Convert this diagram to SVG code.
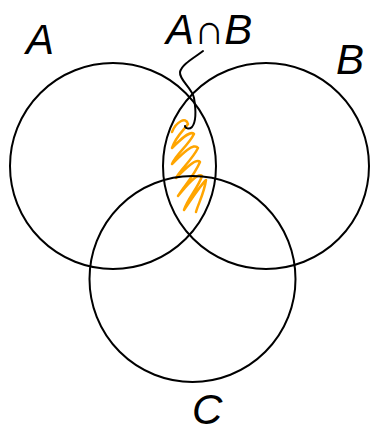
<svg xmlns="http://www.w3.org/2000/svg" width="376" height="433" viewBox="0 0 376 433">
<style>
.c{fill:none;stroke:#000;stroke-width:2}
.t{font-family:"Liberation Sans",Arial,sans-serif;font-size:42px;fill:#000;font-style:italic}
</style>
<rect width="376" height="433" fill="#fff"/>
<g id="scribble">
<path d="M172,132 C176,122 186,116 188,124 C184,130 176,136 172,148 C180,140 190,130 194,134 C188,146 176,154 172,164 C182,154 194,142 198,148 C192,160 180,170 176,178 C186,168 196,158 200,162 C194,176 184,186 178,196 C186,186 198,172 202,176 C198,188 188,198 184,210 C192,198 200,186 206,180 C204,194 198,204 196,212" fill="none" stroke="#FFA500" stroke-width="2.5" stroke-linejoin="round" stroke-linecap="round"/>
</g>
<g id="A"><circle class="c" cx="113" cy="166" r="103"/><text class="t" x="26" y="54">A</text></g>
<g id="B"><circle class="c" cx="266" cy="166" r="103"/><text class="t" x="336" y="74">B</text></g>
<g id="C"><circle class="c" cx="192.5" cy="279" r="103"/><text class="t" x="192" y="424">C</text></g>
<g id="AnB"><text class="t" x="166" y="44">A∩B</text></g>
<g id="connectors">
<path d="M203,51 C194,58 182,64 180,72 C179,80 192,88 194,98 C196,110 196,122 192,127 C189,130 185,128 185,126" fill="none" stroke="#000" stroke-width="2" stroke-linecap="round"/>
</g>
</svg>
